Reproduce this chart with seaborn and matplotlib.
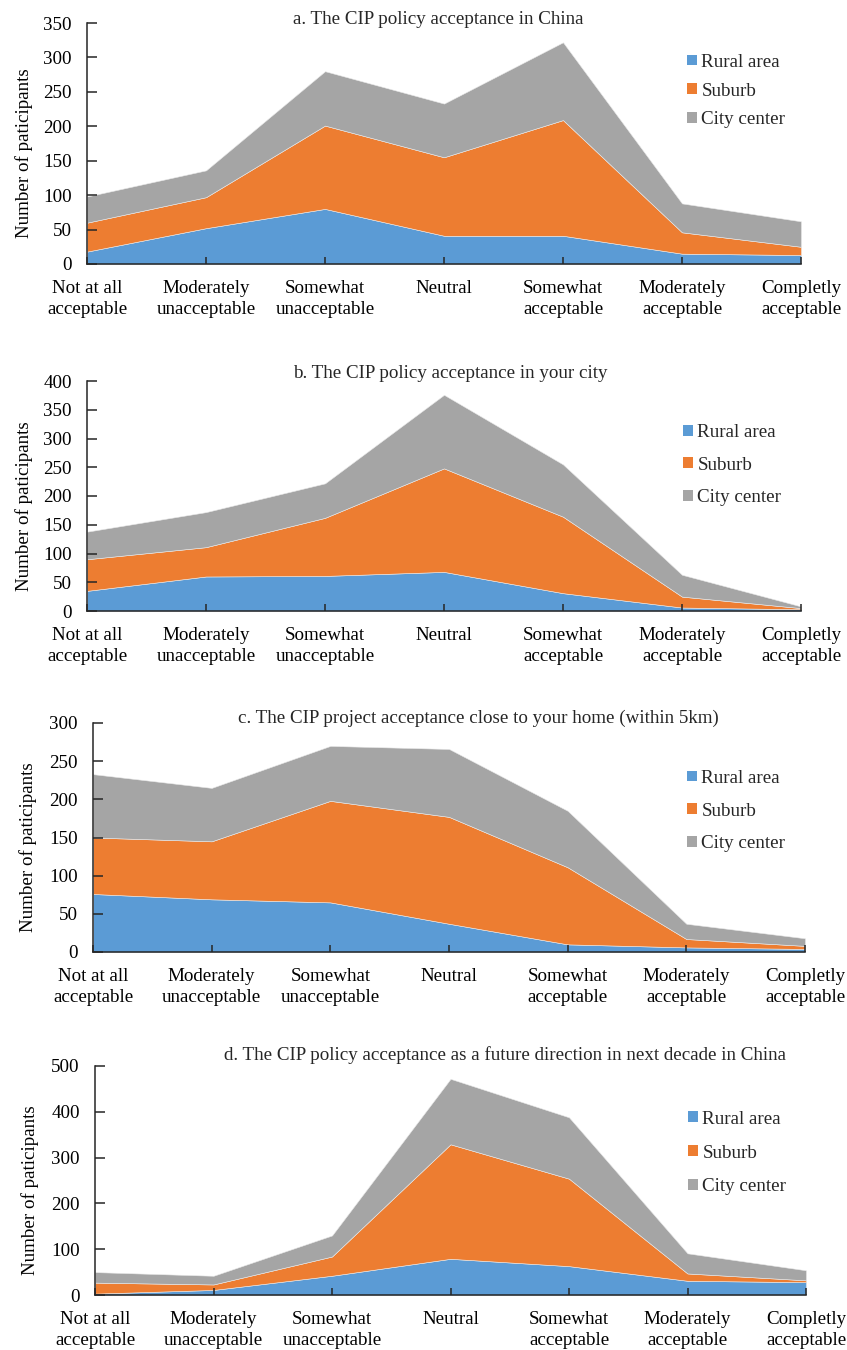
import matplotlib
matplotlib.use("Agg")
import matplotlib.pyplot as plt
from matplotlib.patches import Patch
import numpy as np
import pandas as pd
import seaborn as sns

# Response categories (x axis)
categories = [
    "Not at all\nacceptable",
    "Moderately\nunacceptable",
    "Somewhat\nunacceptable",
    "Neutral",
    "Somewhat\nacceptable",
    "Moderately\nacceptable",
    "Completly\nacceptable",
]
groups = ["Rural area", "Suburb", "City center"]

# a. acceptance in China
rural_a = [18, 52, 80, 41, 41, 15, 13]
suburb_a = [42, 45, 121, 114, 168, 31, 12]
city_a = [38, 39, 79, 78, 113, 42, 37]

# b. acceptance in your city
rural_b = [35, 60, 61, 68, 31, 6, 3]
suburb_b = [55, 51, 101, 180, 133, 19, 2]
city_b = [48, 61, 60, 128, 91, 38, 3]

# c. project acceptance close to home
rural_c = [76, 69, 65, 37, 10, 6, 4]
suburb_c = [74, 76, 133, 140, 101, 11, 4]
city_c = [83, 70, 72, 89, 74, 20, 10]

# d. acceptance as a future direction
rural_d = [3, 11, 42, 79, 63, 31, 28]
suburb_d = [24, 12, 42, 250, 191, 16, 4]
city_d = [23, 19, 46, 143, 134, 44, 22]

titles = [
    "a. The CIP policy acceptance in China",
    "b. The CIP policy acceptance in your city",
    "c. The CIP project acceptance close to your home (within 5km)",
    "d. The CIP policy acceptance as a future direction in next decade in China",
]
y_max = [350, 400, 300, 500]
y_step = [50, 50, 50, 100]

sns.set_theme(style="ticks")
plt.rcParams["font.family"] = ["Liberation Serif", "DejaVu Serif"]
FS = 13.7
colors = sns.color_palette(["#5B9BD5", "#ED7D31", "#A5A5A5"])

W, H = 847, 1350
fig = plt.figure(figsize=(W / 100, H / 100), dpi=100)

# layout in pixels: left, right, top, bottom
boxes = [(87, 801, 23, 264), (87, 801, 381, 611), (93, 805, 723, 952), (95, 806, 1066, 1295)]
title_pos = [(438, 20), (450, 373), (478, 718), (505, 1055)]
ylabel_x = [24, 24, 28, 30]
legend_pos = [(687, 91, 0.62), (683, 465, 0.82), (687, 811, 0.83), (688, 1153, 0.89)]

panels = [
    (rural_a, suburb_a, city_a),
    (rural_b, suburb_b, city_b),
    (rural_c, suburb_c, city_c),
    (rural_d, suburb_d, city_d),
]

for i, series in enumerate(panels):
    l, r, t, b = boxes[i]
    ax = fig.add_axes([l / W, 1 - b / H, (r - l) / W, (b - t) / H])
    df = pd.DataFrame({g: s for g, s in zip(groups, series)})
    x = np.arange(len(categories))
    ax.stackplot(x, *[df[g].values for g in groups], colors=colors,
                 labels=groups, linewidth=0.4, edgecolor="#eaeaea")
    ax.set_xlim(0, len(categories) - 1)
    ax.set_ylim(0, y_max[i])
    ax.set_yticks(np.arange(0, y_max[i] + 1, y_step[i]))
    ax.set_xticks(x)
    ax.set_xticklabels(categories, linespacing=1.3)
    ax.set_axisbelow(False)
    sns.despine(ax=ax)
    for sp in ("left", "bottom"):
        ax.spines[sp].set_color("#262626")
        ax.spines[sp].set_linewidth(1.1)
        ax.spines[sp].set_zorder(3)
    ax.tick_params(axis="x", direction="in", length=5, width=1.1, color="#262626",
                   labelsize=FS, pad=11.5, labelcolor="black")
    ax.tick_params(axis="y", direction="in", length=7, width=1.1, color="#262626",
                   labelsize=FS, pad=11, labelcolor="black")
    ax.set_ylabel("Number of paticipants", fontsize=FS, color="black")
    ax.yaxis.set_label_coords((ylabel_x[i] - l) / (r - l), 0.5 - 10 / (b - t))
    ax.yaxis.label.set_va("center")
    ax.set_facecolor("white")

    tx, ty = title_pos[i]
    fig.text(tx / W, 1 - ty / H, titles[i], ha="center", va="center", fontsize=FS)

    lx, ly, ls = legend_pos[i]
    handles = [Patch(facecolor=c, edgecolor="none") for c in colors]
    ax.legend(handles, groups, loc="center left",
              bbox_to_anchor=(lx / W, 1 - ly / H), bbox_transform=fig.transFigure,
              frameon=False, fontsize=FS, handlelength=0.5, handleheight=0.5,
              handletextpad=0.25, labelspacing=ls, borderpad=0, borderaxespad=0)

fig.savefig("out.png", dpi=100, facecolor="white")
